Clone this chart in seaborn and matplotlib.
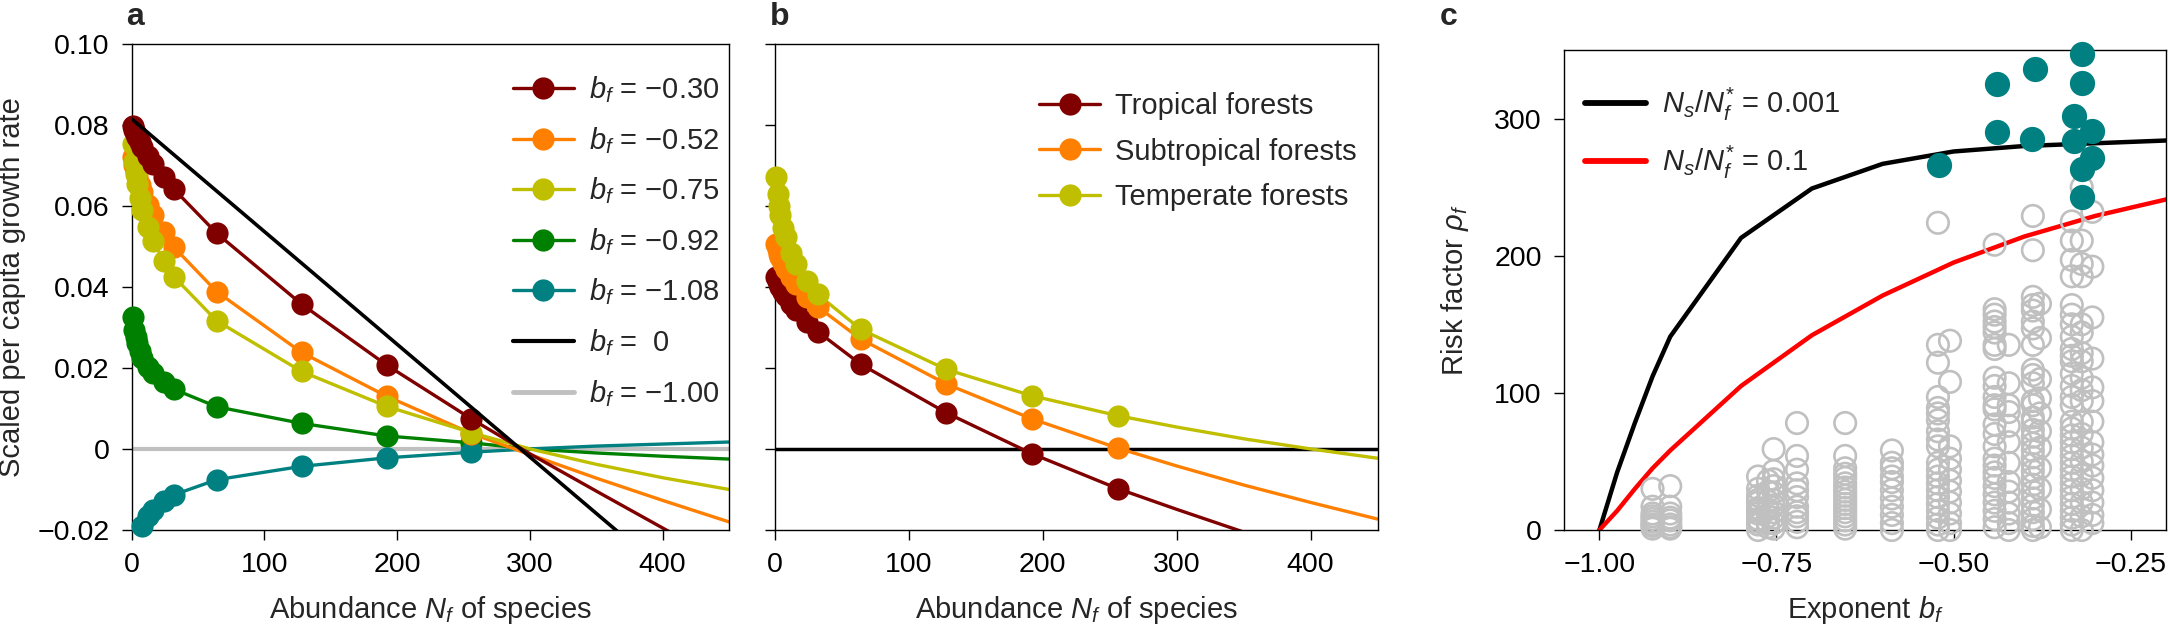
import numpy as np
import pandas as pd
import matplotlib
matplotlib.use("Agg")
import matplotlib.pyplot as plt
import seaborn as sns
from matplotlib.lines import Line2D

sns.set_theme(style="ticks")
plt.rcParams['font.family'] = ['Liberation Sans', 'DejaVu Sans']
plt.rcParams['mathtext.fontset'] = 'custom'
plt.rcParams['mathtext.rm'] = 'Liberation Sans'
plt.rcParams['mathtext.it'] = 'Liberation Sans:italic'
plt.rcParams['mathtext.bf'] = 'Liberation Sans:bold'
plt.rcParams['axes.unicode_minus'] = True

# ---------------- data: panel a ----------------
N_markers = [1, 2, 3, 4, 6, 8, 12, 16, 24, 32, 64, 128, 192, 256]
N_ext = [256, 300, 350, 400, 450]

a_b030 = [0.0797, 0.0786, 0.0777, 0.0770, 0.0757, 0.0745, 0.0723, 0.0704, 0.0670, 0.0640, 0.0532, 0.0357, 0.0207, 0.0074]
a_b030_ext = [0.0074, -0.0012, -0.0104, -0.0195, -0.0286]
a_b052 = [0.0720, 0.0700, 0.0686, 0.0672, 0.0651, 0.0633, 0.0602, 0.0578, 0.0535, 0.0497, 0.0388, 0.0238, 0.0130, 0.0038]
a_b052_ext = [0.0038, -0.0014, -0.0072, -0.0127, -0.0180]
a_b075 = [0.0752, 0.0708, 0.0678, 0.0653, 0.0618, 0.0590, 0.0547, 0.0514, 0.0464, 0.0424, 0.0316, 0.0191, 0.0105, 0.0040]
a_b075_ext = [0.0040, 0.0000, -0.0038, -0.0071, -0.0100]
a_b092 = [0.0326, 0.0294, 0.0275, 0.0261, 0.0241, 0.0225, 0.0203, 0.0187, 0.0165, 0.0147, 0.0104, 0.0063, 0.0032, 0.0015]
a_b092_ext = [0.0015, 0.0000, -0.0010, -0.0018, -0.0025]
N_b108 = [8, 12, 16, 24, 32, 64, 128, 192, 256]
a_b108 = [-0.0190, -0.0165, -0.0150, -0.0128, -0.0113, -0.0076, -0.0043, -0.0022, -0.0008]
a_b108_ext = [-0.0008, 0.0000, 0.0007, 0.0012, 0.0017]
N_line = [0, 450]
a_b000 = [0.0814, -0.0437]
a_b100 = [0.0, 0.0]

a_labels = ["$b_f$ = \u22120.30", "$b_f$ = \u22120.52", "$b_f$ = \u22120.75", "$b_f$ = \u22120.92",
            "$b_f$ = \u22121.08", "$b_f$ =  0", "$b_f$ = \u22121.00"]

# ---------------- data: panel b ----------------
b_trop = [0.0424, 0.0415, 0.0407, 0.0400, 0.0387, 0.0377, 0.0358, 0.0342, 0.0314, 0.0289, 0.0209, 0.0089, -0.0012, -0.0098]
b_trop_ext = [-0.0098, -0.0149, -0.0205, -0.0259, -0.0312]
b_subt = [0.0506, 0.0492, 0.0482, 0.0473, 0.0458, 0.0445, 0.0424, 0.0406, 0.0375, 0.0350, 0.0271, 0.0160, 0.0074, 0.0002]
b_subt_ext = [0.0002, -0.0042, -0.0089, -0.0132, -0.0173]
b_temp = [0.0671, 0.0628, 0.0600, 0.0578, 0.0546, 0.0522, 0.0484, 0.0456, 0.0413, 0.0381, 0.0295, 0.0196, 0.0131, 0.0082]
b_temp_ext = [0.0082, 0.0054, 0.0025, 0.0000, -0.0023]
b_labels = ["Tropical forests", "Subtropical forests", "Temperate forests"]

# ---------------- data: panel c ----------------
c_bexp = [-1.0, -0.975, -0.95, -0.925, -0.9, -0.8, -0.7, -0.6, -0.5, -0.4, -0.3, -0.2]
c_black = [0, 42, 78, 112, 141, 213, 249, 267, 276, 280, 282, 284]
c_red = [0, 14, 30, 45, 58, 105, 142, 171, 195, 214, 229, 241]
c_labels = ["$N_s/N_f^{*}$ = 0.001", "$N_s/N_f^{*}$ = 0.1"]

gray_cols = {
    -0.925: [30, 17, 12, 10, 8, 6, 4, 3, 1],
    -0.900: [32, 17, 12, 9, 7, 4, 2, 1],
    -0.776: [39, 30, 25, 22, 20, 16, 14, 12, 8, 6, 4, 0],
    -0.762: [36, 28, 21, 15, 10, 5, 2],
    -0.754: [59, 43, 37, 32, 27, 22, 18, 13, 9, 5, 1],
    -0.721: [78, 54, 44, 34, 29, 24, 17, 13, 10, 6, 2],
    -0.653: [78, 54, 45, 41, 38, 34, 31, 28, 25, 22, 19, 16, 13, 10, 7, 4, 1],
    -0.587: [58, 49, 45, 39, 35, 29, 23, 17, 11, 5, 0],
    -0.522: [224, 135, 122, 97, 89, 85, 80, 72, 66, 61, 49, 44, 39, 34, 29, 24, 19, 14, 9, 4, 0],
    -0.505: [138, 108, 61, 52, 44, 36, 28, 20, 12, 5, 0],
    -0.442: [208, 161, 157, 152, 148, 144, 135, 132, 111, 105, 97, 91, 88, 77, 70, 61, 52, 47, 42,
             38, 32, 26, 20, 14, 8, 2],
    -0.422: [135, 107, 91, 86, 76, 64, 49, 35, 28, 20, 12, 5, 0],
    -0.388: [229, 204, 170, 164, 160, 152, 147, 135, 117, 113, 107, 94, 91, 82, 79, 73, 68, 63, 58,
             53, 48, 43, 38, 33, 28, 23, 18, 13, 8, 3, 0],
    -0.378: [165, 140, 110, 96, 85, 72, 60, 45, 30, 15, 2],
    -0.333: [225, 211, 197, 185, 164, 157, 150, 141, 132, 127, 123, 114, 105, 97, 91, 79, 74, 69, 64,
             59, 54, 49, 44, 39, 34, 29, 24, 19, 14, 9, 4, 0],
    -0.319: [250, 211, 194, 185, 150, 144, 129, 123, 111, 102, 94, 79, 70, 60, 50, 40, 30, 20, 10, 0],
    -0.304: [232, 192, 155, 125, 104, 94, 79, 64, 55, 47, 38, 29, 20, 11, 5],
}
teal_x = [-0.520, -0.438, -0.438, -0.385, -0.389, -0.330, -0.330, -0.318, -0.318, -0.318, -0.318, -0.304, -0.304]
teal_y = [266, 325, 290, 336, 285, 302, 284, 347, 326, 263, 243, 291, 271]

# ---------------- colours ----------------
C_DRED = "#800000"
C_ORNG = "#ff8000"
C_YLW = "#bfbf00"
C_GRN = "#008000"
C_TEAL = "#008080"
C_GRAY = "#c0c0c0"

FS = 21
TFS = 20.5
W, H = 2168, 630
fig = plt.figure(figsize=(W / 100, H / 100), dpi=100)


def px_axes(l, r, t, b):
    return fig.add_axes([l / W, 1 - b / H, (r - l) / W, (b - t) / H])


axA = px_axes(131.7, 729, 43.5, 530)
axB = px_axes(775, 1377.5, 43.5, 530)
axC = px_axes(1564, 2166, 50, 530)

LW = 2.4
MS = 255


def style(ax):
    for s in ax.spines.values():
        s.set_linewidth(1.0)
        s.set_color("black")
        s.set_visible(True)
    ax.tick_params(direction="out", length=7, width=1.0, labelsize=TFS, pad=9, colors="black")
    ax.tick_params(top=False, right=False)


def curve(ax, xs, ys, xe, ye, color, lw=LW, s=MS):
    sns.lineplot(x=list(xs) + list(xe[1:]), y=list(ys) + list(ye[1:]), ax=ax, color=color, lw=lw,
                 estimator=None, sort=False, legend=False, zorder=2)
    sns.scatterplot(x=xs, y=ys, ax=ax, color=color, s=s, linewidth=0, legend=False,
                    zorder=3, clip_on=False)


# ---------------- panel a ----------------
sns.lineplot(x=N_line, y=a_b100, ax=axA, color=C_GRAY, lw=3, estimator=None, legend=False, zorder=1)
curve(axA, N_markers, a_b092, N_ext, a_b092_ext, C_GRN)
curve(axA, N_b108, a_b108, N_ext, a_b108_ext, C_TEAL)
curve(axA, N_markers, a_b052, N_ext, a_b052_ext, C_ORNG)
curve(axA, N_markers, a_b075, N_ext, a_b075_ext, C_YLW)
curve(axA, N_markers, a_b030, N_ext, a_b030_ext, C_DRED)
sns.lineplot(x=N_line, y=a_b000, ax=axA, color="black", lw=2.6, estimator=None, legend=False, zorder=4)

axA.set_xlim(0, 450)
axA.set_ylim(-0.02, 0.10)
yt = [-0.02, 0, 0.02, 0.04, 0.06, 0.08, 0.10]
axA.set_yticks(yt)
axA.set_yticklabels(["\u22120.02", "0", "0.02", "0.04", "0.06", "0.08", "0.10"])
axA.set_xticks([0, 100, 200, 300, 400])
axA.set_xticklabels(["0", "100", "200", "300", "400"])
axA.set_xlabel("Abundance $N_f$ of species", fontsize=FS, labelpad=11)
axA.set_ylabel("Scaled per capita growth rate", fontsize=FS, labelpad=8)
style(axA)

hA = [Line2D([0], [0], color=c, lw=LW, marker="o", markersize=16, markeredgewidth=0)
      for c in [C_DRED, C_ORNG, C_YLW, C_GRN, C_TEAL]]
hA += [Line2D([0], [0], color="black", lw=3), Line2D([0], [0], color=C_GRAY, lw=3.5)]
axA.legend(hA, a_labels, loc="upper left", bbox_to_anchor=(0.638, 0.937), frameon=False,
           fontsize=FS, handlelength=2.1, handletextpad=0.5, labelspacing=0.68, borderpad=0,
           borderaxespad=0)

# ---------------- panel b ----------------
axB.axhline(0, color="black", lw=2.5, zorder=1)
curve(axB, N_markers, b_trop, N_ext, b_trop_ext, C_DRED)
curve(axB, N_markers, b_subt, N_ext, b_subt_ext, C_ORNG)
curve(axB, N_markers, b_temp, N_ext, b_temp_ext, C_YLW)
axB.set_xlim(0, 450)
axB.set_ylim(-0.02, 0.10)
axB.set_yticks(yt)
axB.set_yticklabels([])
axB.set_xticks([0, 100, 200, 300, 400])
axB.set_xticklabels(["0", "100", "200", "300", "400"])
axB.set_xlabel("Abundance $N_f$ of species", fontsize=FS, labelpad=11)
style(axB)
hB = [Line2D([0], [0], color=c, lw=LW, marker="o", markersize=16, markeredgewidth=0)
      for c in [C_DRED, C_ORNG, C_YLW]]
axB.legend(hB, b_labels, loc="upper left", bbox_to_anchor=(0.438, 0.90), frameon=False,
           fontsize=FS, handlelength=2.1, handletextpad=0.5, labelspacing=0.6, borderpad=0,
           borderaxespad=0)

# ---------------- panel c ----------------
sns.lineplot(x=c_bexp, y=c_black, ax=axC, color="black", lw=3.2, estimator=None, legend=False, zorder=2)
sns.lineplot(x=c_bexp, y=c_red, ax=axC, color="#ff0000", lw=3.2, estimator=None, legend=False, zorder=2)
gx, gy = [], []
for xv, ys in gray_cols.items():
    gx += [xv] * len(ys)
    gy += ys
sns.scatterplot(x=gx, y=gy, ax=axC, s=240, marker="o", facecolors="none", edgecolor=C_GRAY,
                linewidth=1.9, legend=False, zorder=3, clip_on=False)
coll = axC.collections[-1]
coll.set_facecolor("none")
coll.set_edgecolor(C_GRAY)
sns.scatterplot(x=teal_x, y=teal_y, ax=axC, s=330, color=C_TEAL, linewidth=0, legend=False,
                zorder=4, clip_on=False)
axC.set_xlim(-1.05, -0.2)
axC.set_ylim(0, 350)
axC.set_xticks([-1.0, -0.75, -0.5, -0.25])
axC.set_xticklabels(["\u22121.00", "\u22120.75", "\u22120.50", "\u22120.25"])
axC.set_yticks([0, 100, 200, 300])
axC.set_yticklabels(["0", "100", "200", "300"])
axC.set_xlabel("Exponent $b_f$", fontsize=FS, labelpad=11)
axC.set_ylabel("Risk factor $\\rho_f$", fontsize=FS, labelpad=17)
style(axC)
hC = [Line2D([0], [0], color="black", lw=4.2), Line2D([0], [0], color="#ff0000", lw=4.2)]
axC.legend(hC, c_labels, loc="upper left", bbox_to_anchor=(0.035, 0.925), frameon=False,
           fontsize=FS, handlelength=2.1, handletextpad=0.55, labelspacing=0.72, borderpad=0,
           borderaxespad=0)

# panel letters
for xp, lab in [(126, "a"), (770, "b"), (1440, "c")]:
    fig.text(xp / W, 1 - 25 / H, lab, ha="left", va="baseline", fontsize=23, fontweight="bold")

fig.savefig("out.png", dpi=100)
